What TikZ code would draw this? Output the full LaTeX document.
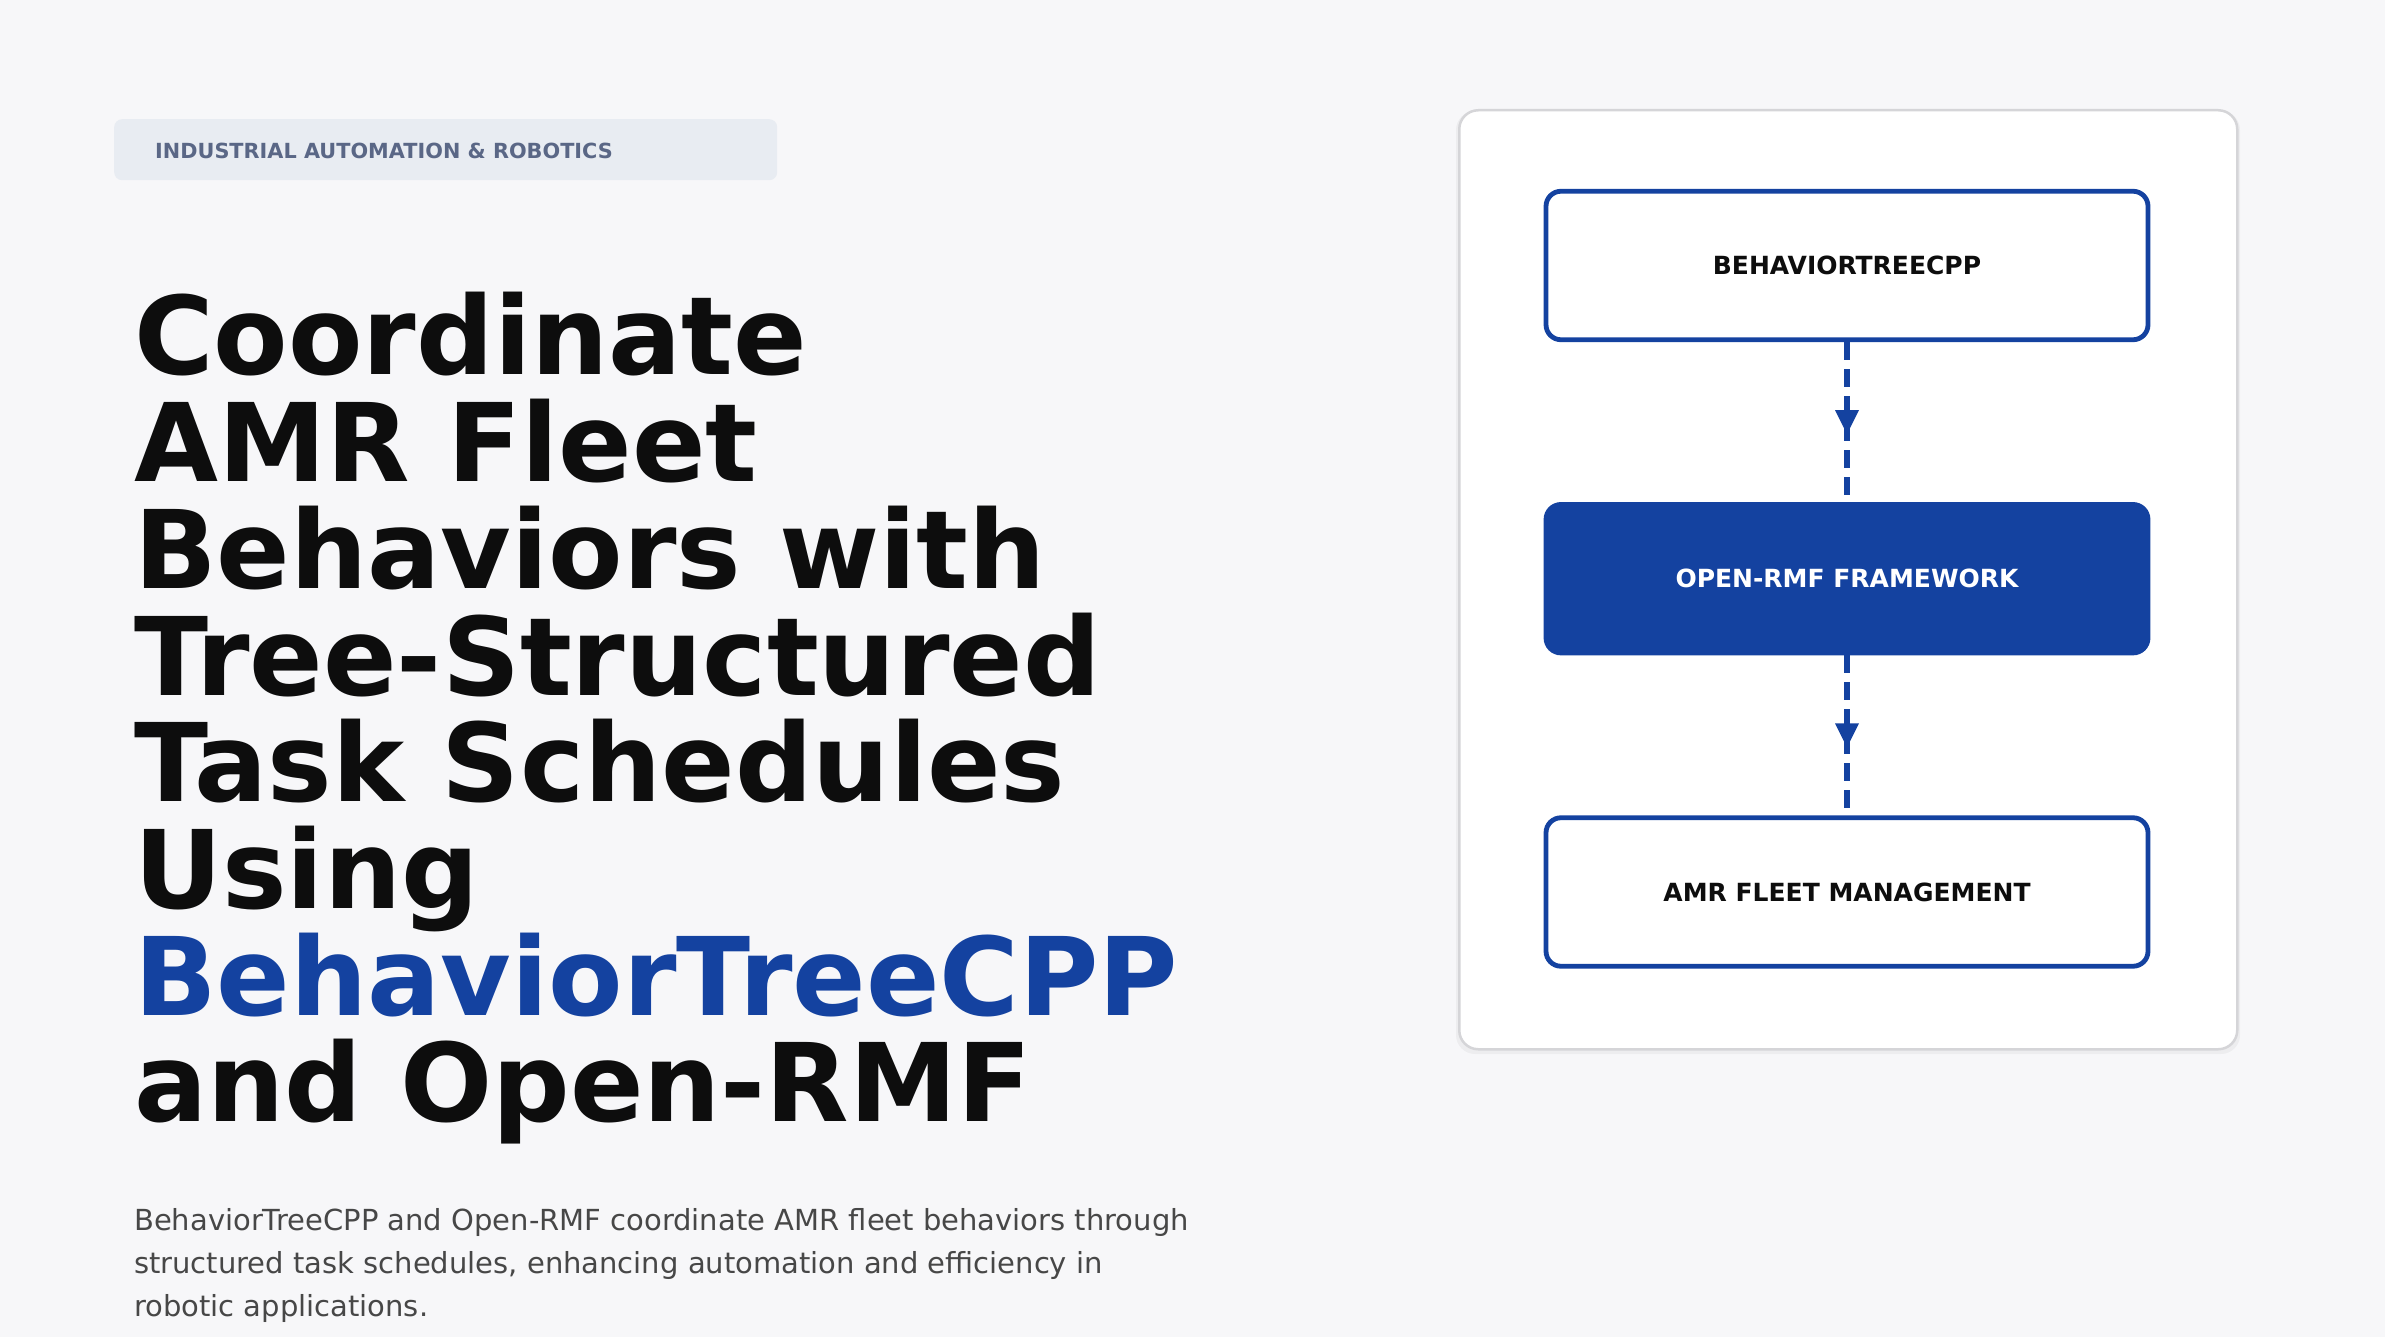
\documentclass[tikz,border=0pt]{standalone}
\usepackage{fontspec}
\setmainfont{DejaVu Sans}
\usetikzlibrary{decorations.markings}
\definecolor{bg}{HTML}{F7F7F9}
\definecolor{ink}{HTML}{0D0D0D}
\definecolor{brand}{HTML}{1442A0}
\definecolor{tagbg}{HTML}{E8ECF2}
\definecolor{tagtext}{HTML}{5A6786}
\definecolor{desc}{HTML}{474747}
\definecolor{cardline}{HTML}{D5D5D8}
\tikzset{
  titleline/.style={anchor=base west, inner sep=0pt, font=\fontsize{108.5}{108}\selectfont\bfseries, text=ink},
  descline/.style={anchor=base west, inner sep=0pt, font=\fontsize{29}{34}\selectfont, text=desc},
  tagbox/.style={fill=tagbg, rounded corners=8pt, inner sep=0pt, anchor=north west},
  tagtxt/.style={anchor=base west, inner sep=0pt, font=\fontsize{20.8}{25}\selectfont\bfseries, text=tagtext},
  card/.style={fill=white, draw=cardline, line width=2.5pt, rounded corners=19pt, inner sep=0pt, anchor=north west},
  flowbox/.style={draw=brand, line width=4.8pt, rounded corners=15pt, fill=white, minimum width=602pt, minimum height=148.5pt, inner sep=0pt, font=\fontsize{25}{29}\selectfont\bfseries, text=ink},
  flowfill/.style={flowbox, fill=brand, text=white},
  flowarrow/.style={draw=brand, line width=5.5pt, dash pattern=on 18pt off 9pt,
    postaction={decorate},
    decoration={markings, mark=at position 0.5 with {\fill[brand] (-12,-12) -- (12,0) -- (-12,12) -- cycle;}}}
}
\begin{document}
\begin{tikzpicture}[x=1pt,y=-1pt]
\useasboundingbox (0,0) rectangle (2385,1337);
\fill[bg] (0,0) rectangle (2385,1337);

% tag
\node[tagbox, minimum width=663pt, minimum height=61pt] (tag) at (114,119) {};
\node[tagtxt] (tagt) at (155,158.5) {INDUSTRIAL AUTOMATION \& ROBOTICS};

% title
\node[titleline] (t1) at (134,375) {Coordinate};
\node[titleline] (t2) at (134,481.7) {AMR Fleet};
\node[titleline] (t3) at (134,588.4) {Behaviors with};
\node[titleline] (t4) at (134,695.1) {Tree-Structured};
\node[titleline] (t5) at (134,801.8) {Task Schedules};
\node[titleline] (t6) at (134,908.5) {Using};
\node[titleline, text=brand] (t7) at (134,1015.2) {BehaviorTreeCPP};
\node[titleline] (t8) at (134,1121.9) {and Open-RMF};

% description
\node[descline] (d1) at (134,1230) {BehaviorTreeCPP and Open-RMF coordinate AMR fleet behaviors through};
\node[descline] (d2) at (134,1273) {structured task schedules, enhancing automation and efficiency in};
\node[descline] (d3) at (134,1316) {robotic applications.};

% card
\fill[black, opacity=0.04, rounded corners=19pt] (1456,111) rectangle (2240,1054);
\node[card, minimum width=778pt, minimum height=939pt] (card) at (1458,109) {};

% flow
\node[flowbox] (b1) at (1847,265.5) {BEHAVIORTREECPP};
\node[flowfill] (b2) at (1847,578.7) {OPEN-RMF FRAMEWORK};
\node[flowbox] (b3) at (1847,892) {AMR FLEET MANAGEMENT};

\draw[flowarrow] (b1.south) -- (b2.north);
\draw[flowarrow] (b2.south) -- (b3.north);
\end{tikzpicture}
\end{document}
